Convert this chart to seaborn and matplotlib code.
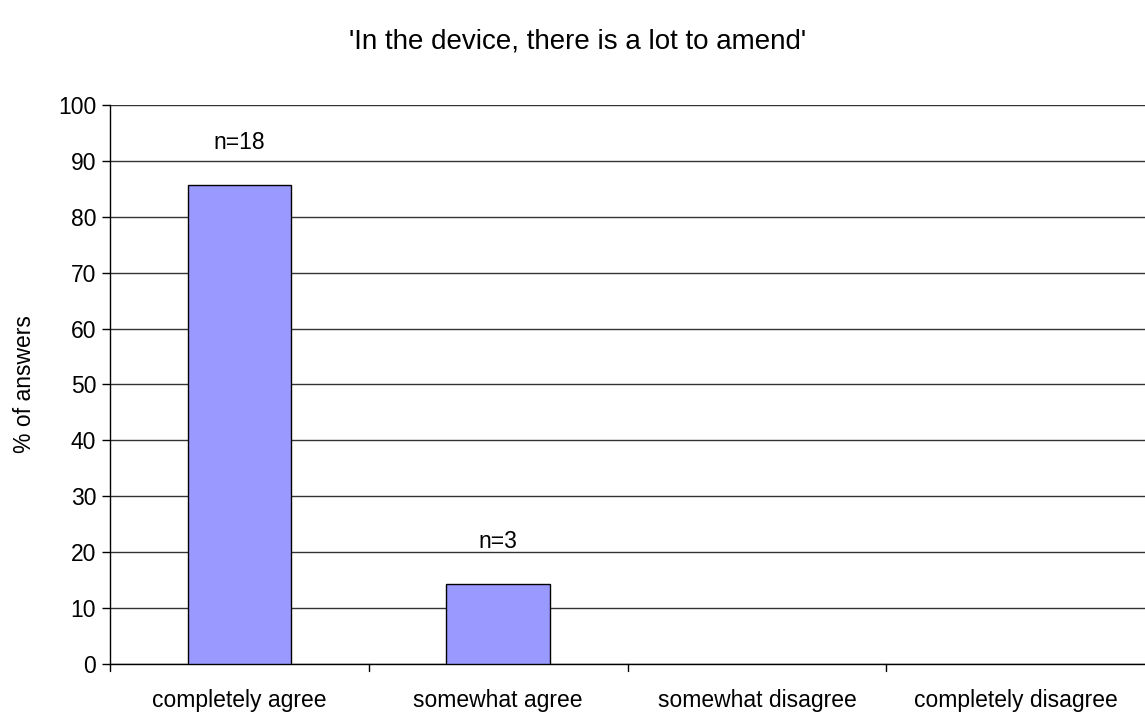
import matplotlib
matplotlib.use("Agg")
import matplotlib.pyplot as plt
import seaborn as sns
import pandas as pd

categories = ["completely agree", "somewhat agree", "somewhat disagree", "completely disagree"]
percent = [85.7, 14.3, 0.0, 0.0]
counts = [18, 3, 0, 0]
title = "'In the device, there is a lot to amend'"
y_label = "% of answers"

sns.set_theme(style="white")
plt.rcParams["font.family"] = ["Liberation Sans", "DejaVu Sans"]
plt.rcParams["text.color"] = "black"
plt.rcParams["axes.labelcolor"] = "black"

df = pd.DataFrame({"answer": categories, "pct": percent, "n": counts})

fig = plt.figure(figsize=(11.45, 7.15), dpi=100)
ax = fig.add_axes([0.0961, 0.0713, 0.904, 0.782])

sns.barplot(data=df, x="answer", y="pct", order=categories, color="#9999FF",
            saturation=1, width=0.4, edgecolor="black", linewidth=1.0, ax=ax, zorder=3)

# empty categories carry no visible bar outline
for patch in ax.patches:
    if patch.get_height() == 0:
        patch.set_visible(False)

ax.set_ylim(0, 100)
ax.set_xlim(-0.5, 3.5)
ax.set_yticks(range(0, 101, 10))
ax.yaxis.grid(True, color="#333333", linewidth=1.0, zorder=0)
ax.set_axisbelow(True)

# category boundary ticks on the x axis
ax.set_xticks(list(range(len(categories))))
ax.set_xticklabels(categories)
ax.tick_params(axis="x", length=0, pad=18, labelsize=16.5, colors="black")
for b in [-0.5, 0.5, 1.5, 2.5]:
    ax.plot([b, b], [0, -0.012], transform=ax.get_xaxis_transform(), color="black",
            linewidth=1.0, clip_on=False)

ax.tick_params(axis="y", left=True, length=6, width=1.0, direction="out",
               labelsize=16.5, colors="black", pad=4)

for side in ["top", "right"]:
    ax.spines[side].set_visible(False)
for side in ["left", "bottom"]:
    ax.spines[side].set_color("black")
    ax.spines[side].set_linewidth(1.0)

ax.set_xlabel("")
ax.set_ylabel(y_label, fontsize=16.5, labelpad=16)

for i, (p, n) in enumerate(zip(percent, counts)):
    if n > 0:
        ax.annotate(f"n={n}", xy=(i, p), xytext=(0, 26), textcoords="offset points",
                    ha="center", va="baseline", fontsize=16.5)

fig.text(0.504, 0.942, title, ha="center", va="center", fontsize=20)

fig.savefig("out.png", dpi=100)
